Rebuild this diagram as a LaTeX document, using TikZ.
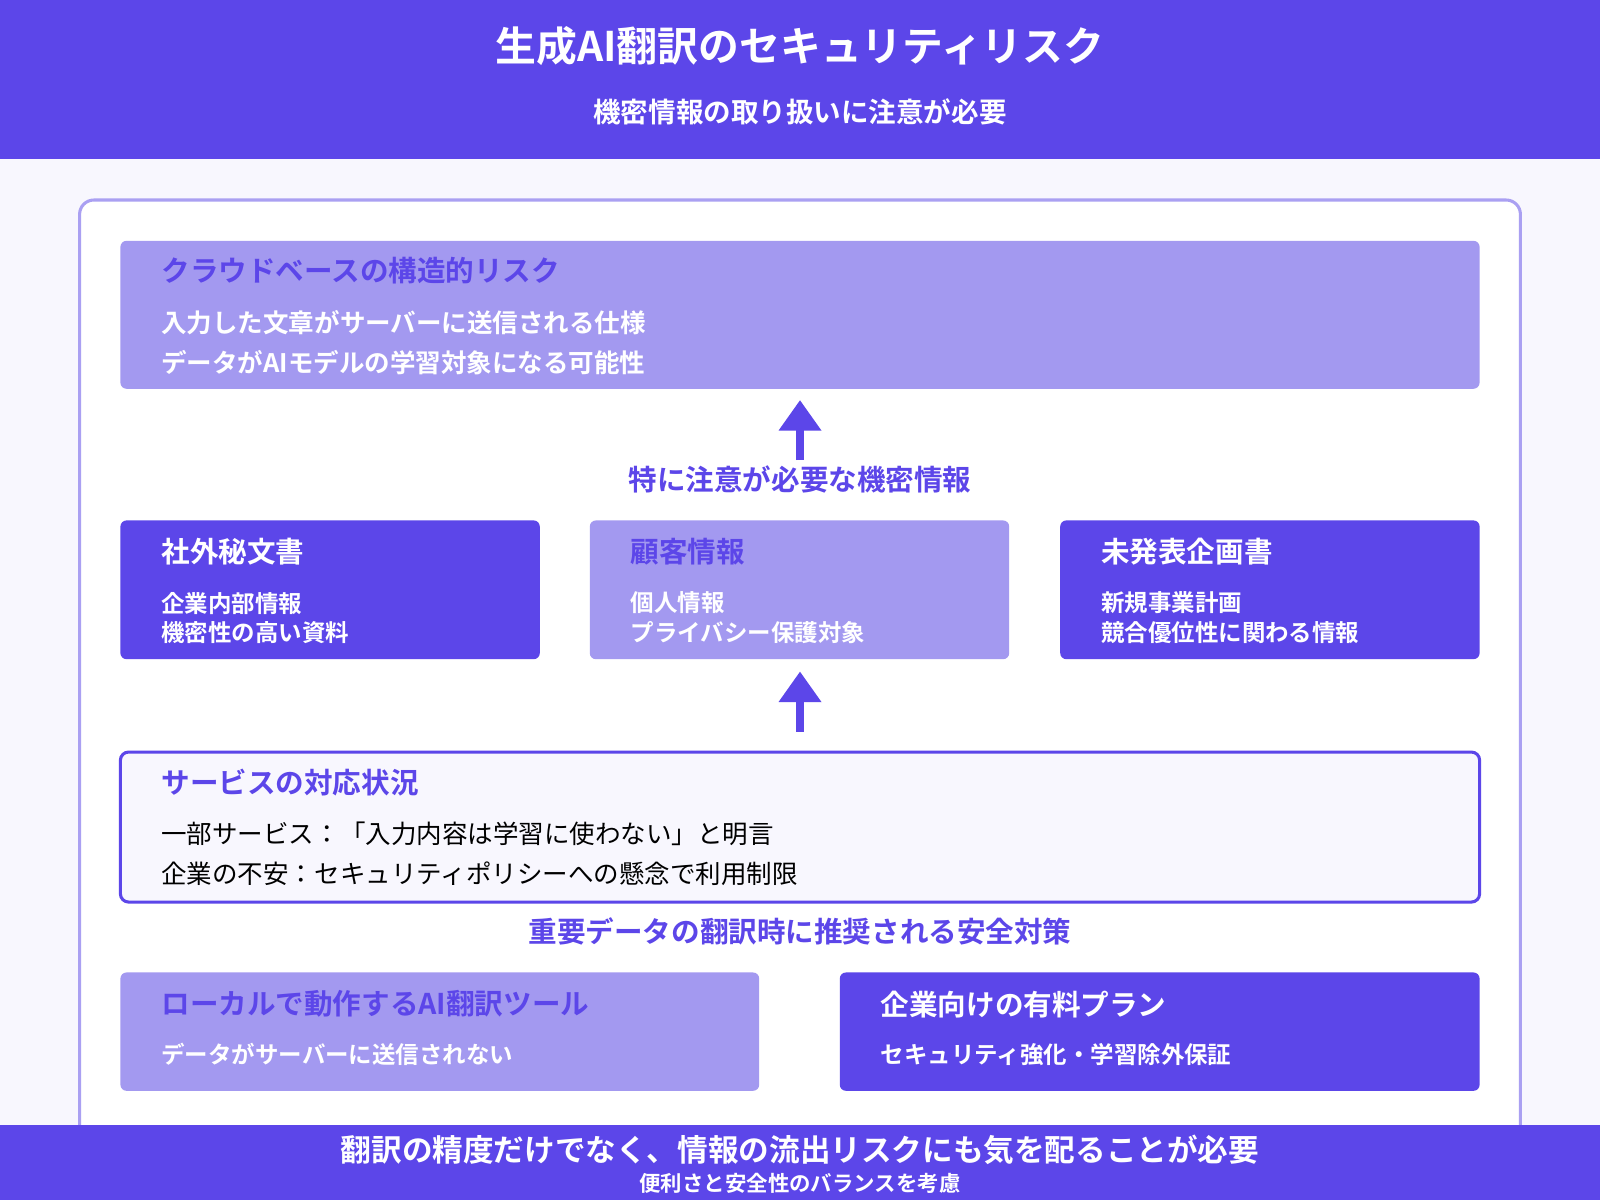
\documentclass[tikz,border=0pt]{standalone}
\usepackage{fontspec}
\setmainfont{Noto Sans CJK JP}
\newfontfamily\jpbold{Noto Sans CJK JP Bold}
\usetikzlibrary{positioning,arrows.meta}
\definecolor{mydark}{RGB}{92,70,233}
\definecolor{mylight}{RGB}{163,153,240}
\definecolor{myedge}{RGB}{170,160,242}
\definecolor{mybg}{RGB}{248,247,254}
\newcommand{\fs}[1]{\fontsize{#1}{#1}\selectfont}
\begin{document}
\begin{tikzpicture}[x=1pt,y=-1pt,
  darkbox/.style={fill=mydark,rounded corners=6pt},
  lightbox/.style={fill=mylight,rounded corners=6pt},
  boxtitle/.style={anchor=west,font=\jpbold\fs{28},inner sep=0pt},
  boxline/.style={anchor=west,font=\jpbold\fs{23},inner sep=0pt,text=white},
  sectlabel/.style={font=\jpbold\fs{28},text=mydark,inner sep=0pt},
  uparrow/.style={draw=mydark,line width=8pt,-{Triangle[length=30pt,width=40pt]}}]
  \useasboundingbox (0,0) rectangle (1568,1176);
  \fill[mybg] (0,0) rectangle (1568,1176);
  % header
  \fill[mydark] (0,0) rectangle (1568,156);
  \node[text=white,font=\jpbold\fs{40}] (title) at (784,45) {生成AI翻訳のセキュリティリスク};
  \node[text=white,font=\jpbold\fs{27}] (subtitle) at (784,110) {機密情報の取り扱いに注意が必要};
  % frame
  \draw[myedge,line width=3pt,fill=white,rounded corners=14pt] (78,196) rectangle (1490,1130);
  % cloud risk
  \fill[lightbox] (118,236) rectangle (1450,381);
  \node[boxtitle,text=mydark] (cloudT) at (158,265) {クラウドベースの構造的リスク};
  \node[boxline,font=\jpbold\fs{25}] (cloud1) at (158,316) {入力した文章がサーバーに送信される仕様};
  \node[boxline,font=\jpbold\fs{25}] (cloud2) at (158,355) {データがAIモデルの学習対象になる可能性};
  \coordinate (a1s) at (784,451);
  \coordinate (a1e) at (784,392);
  \draw[uparrow] (a1s) -- (a1e);
  \node[sectlabel] (secret) at (784,470) {特に注意が必要な機密情報};
  % three boxes
  \fill[darkbox] (118,510) rectangle (529,646);
  \node[boxtitle,text=white] (docT) at (158,541) {社外秘文書};
  \node[boxline] (doc1) at (158,591) {企業内部情報};
  \node[boxline] (doc2) at (158,620) {機密性の高い資料};
  \fill[lightbox] (578,510) rectangle (989,646);
  \node[boxtitle,text=mydark] (custT) at (618,541) {顧客情報};
  \node[boxline] (cust1) at (618,591) {個人情報};
  \node[boxline] (cust2) at (618,620) {プライバシー保護対象};
  \fill[darkbox] (1039,510) rectangle (1450,646);
  \node[boxtitle,text=white] (planT) at (1079,541) {未発表企画書};
  \node[boxline] (plan1) at (1079,591) {新規事業計画};
  \node[boxline] (plan2) at (1079,620) {競合優位性に関わる情報};
  \coordinate (a2s) at (784,717);
  \coordinate (a2e) at (784,658);
  \draw[uparrow] (a2s) -- (a2e);
  % services
  \draw[mydark,line width=3pt,fill=mybg,rounded corners=8pt] (118,737) rectangle (1450,884);
  \node[boxtitle,text=mydark] (servT) at (158,767) {サービスの対応状況};
  \node[boxline,font=\fs{25},text=black] (serv1) at (158,817) {一部サービス：「入力内容は学習に使わない」と明言};
  \node[boxline,font=\fs{25},text=black] (serv2) at (158,856) {企業の不安：セキュリティポリシーへの懸念で利用制限};
  \node[sectlabel] (safe) at (784,913) {重要データの翻訳時に推奨される安全対策};
  % measures
  \fill[lightbox] (118,953) rectangle (744,1069);
  \node[boxtitle,text=mydark] (localT) at (158,984) {ローカルで動作するAI翻訳ツール};
  \node[boxline] (local1) at (158,1033) {データがサーバーに送信されない};
  \fill[darkbox] (823,953) rectangle (1450,1069);
  \node[boxtitle,text=white] (paidT) at (863,984) {企業向けの有料プラン};
  \node[boxline] (paid1) at (863,1033) {セキュリティ強化・学習除外保証};
  % footer
  \fill[mydark] (0,1102) rectangle (1568,1176);
  \node[text=white,font=\jpbold\fs{30}] (foot1) at (784,1127) {翻訳の精度だけでなく、情報の流出リスクにも気を配ることが必要};
  \node[text=white,font=\jpbold\fs{21}] (foot2) at (784,1160) {便利さと安全性のバランスを考慮};
\end{tikzpicture}
\end{document}
